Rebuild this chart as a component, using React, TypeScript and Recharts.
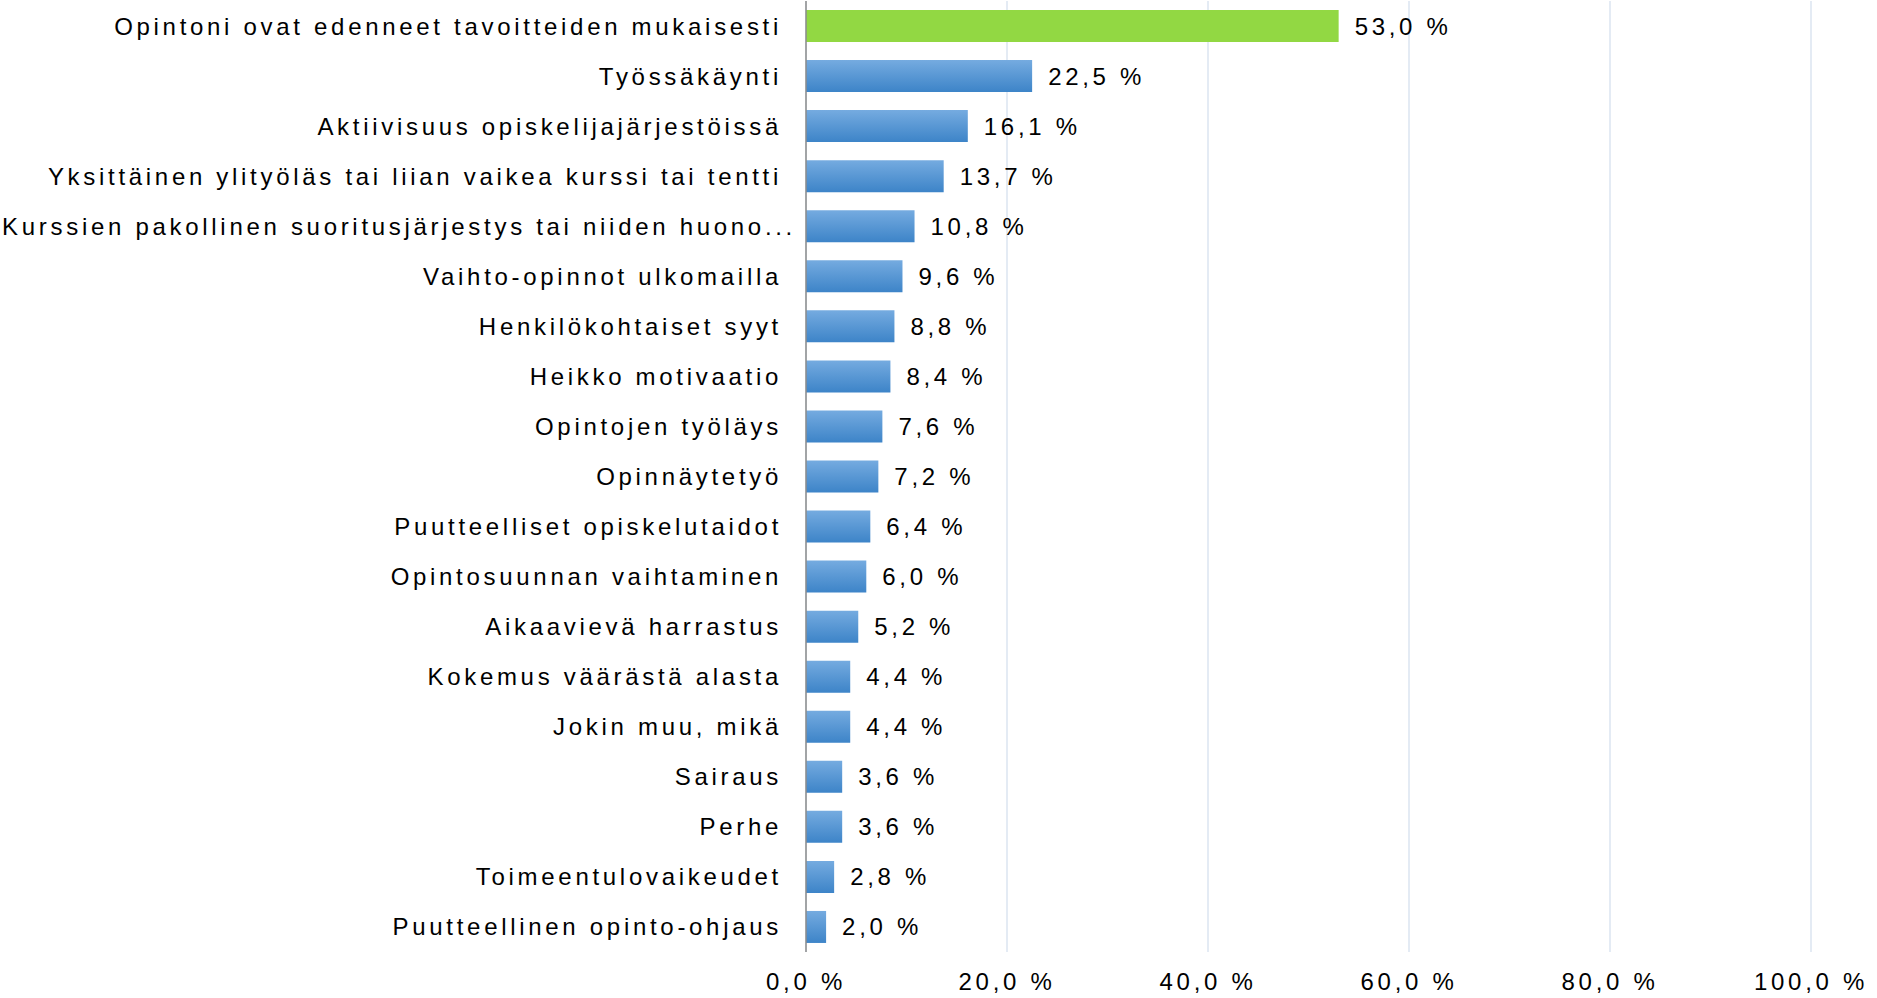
import { Bar, BarChart, CartesianGrid, Cell, LabelList, XAxis, YAxis } from "recharts";

const categories = [
  "Opintoni ovat edenneet tavoitteiden mukaisesti",
  "Työssäkäynti",
  "Aktiivisuus opiskelijajärjestöissä",
  "Yksittäinen ylityöläs tai liian vaikea kurssi tai tentti",
  "Kurssien pakollinen suoritusjärjestys tai niiden huono...",
  "Vaihto-opinnot ulkomailla",
  "Henkilökohtaiset syyt",
  "Heikko motivaatio",
  "Opintojen työläys",
  "Opinnäytetyö",
  "Puutteelliset opiskelutaidot",
  "Opintosuunnan vaihtaminen",
  "Aikaavievä harrastus",
  "Kokemus väärästä alasta",
  "Jokin muu, mikä",
  "Sairaus",
  "Perhe",
  "Toimeentulovaikeudet",
  "Puutteellinen opinto-ohjaus",
];

const values = [53.0, 22.5, 16.1, 13.7, 10.8, 9.6, 8.8, 8.4, 7.6, 7.2, 6.4, 6.0, 5.2, 4.4, 4.4, 3.6, 3.6, 2.8, 2.0];

const xTicks = [0, 20, 40, 60, 80, 100];

const data = categories.map((name, i) => ({ name, value: values[i] }));

const pct = (v: number) => `${v.toFixed(1).replace(".", ",")} %`;

const font = { fontFamily: "'Liberation Sans', Arial, sans-serif", fontSize: 24, letterSpacing: 3.7, fill: "#000" };

// truncated labels sit right against the axis, like in the original
const CategoryTick = (props: any) => {
  const { x, y, payload } = props;
  const label = String(payload.value);
  const shift = label.endsWith("...") ? 14 : 0;
  return (
    <text x={x + shift} y={y} dy="0.355em" textAnchor="end" style={font}>
      {label}
    </text>
  );
};

export default function App() {
  return (
    <div style={{ position: "absolute", left: 0, top: 0 }}>
      <BarChart
        width={1877}
        height={998}
        data={data}
        layout="vertical"
        margin={{ top: 1, right: 66, bottom: 0, left: 0 }}
        barCategoryGap="18%"
      >
        <defs>
          <linearGradient id="blueBar" x1="0" y1="0" x2="0" y2="1">
            <stop offset="0%" stopColor="#75abe0" />
            <stop offset="100%" stopColor="#3d84c8" />
          </linearGradient>
        </defs>
        <CartesianGrid horizontal={false} stroke="#dbe5f1" strokeWidth={1.5} />
        <XAxis
          type="number"
          domain={[0, 100]}
          ticks={xTicks}
          tickFormatter={pct}
          axisLine={false}
          tickLine={false}
          tickMargin={15}
          height={46}
          tick={font}
        />
        <YAxis
          type="category"
          dataKey="name"
          width={806}
          interval={0}
          tickLine={false}
          axisLine={{ stroke: "#8c8c8c", strokeWidth: 1.5 }}
          tickMargin={18}
          tick={<CategoryTick />}
        />
        <Bar dataKey="value" isAnimationActive={false}>
          {data.map((d, i) => (
            <Cell key={d.name} fill={i === 0 ? "#92d843" : "url(#blueBar)"} />
          ))}
          <LabelList dataKey="value" position="right" offset={16} formatter={(v: any) => pct(Number(v))} style={font} />
        </Bar>
      </BarChart>
    </div>
  );
}
